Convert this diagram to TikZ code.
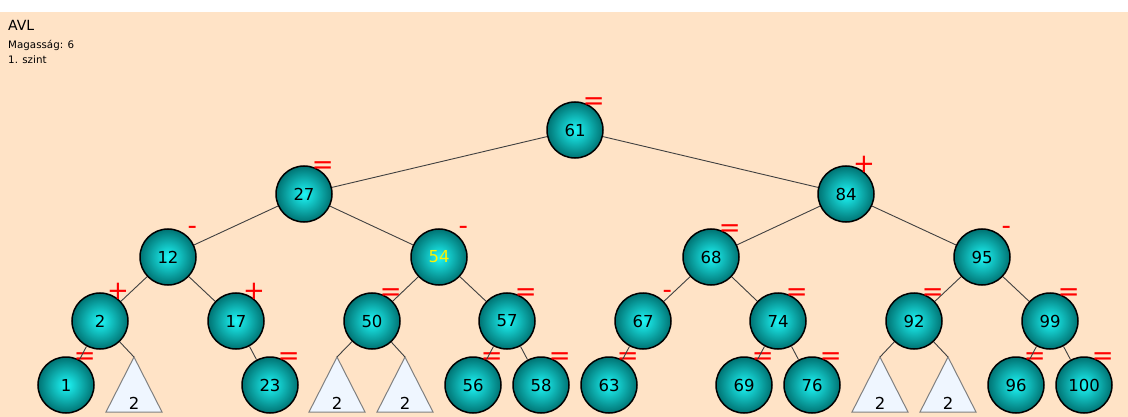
\documentclass[tikz,border=0pt]{standalone}
\usepackage{fontspec}
\setmainfont{DejaVu Sans}
\usepackage{tikz}
\definecolor{peach}{HTML}{FFE3C6}
\definecolor{tealdark}{HTML}{007373}
\definecolor{tealhi}{HTML}{1EF7F7}
\definecolor{leafbg}{HTML}{EFF6FF}

\begin{document}
\begin{tikzpicture}[x=1pt,y=-1pt,
	avl/.style={circle,draw=black,line width=1.5pt,minimum size=56pt,inner sep=0pt,
		shading=radial,inner color=tealhi,outer color=tealdark,
		font=\fontsize{16.5}{18}\selectfont},
	bal/.style={text=red,font=\fontsize{26}{26}\selectfont,inner sep=0pt,anchor=center},
	eq/.style={label={[bal,label distance=4pt]55:{=}}},
	plus/.style={label={[bal,label distance=6pt]59:{+}}},
	minus/.style={label={[bal,label distance=9pt,yshift=-2pt]50:{-}}},
	link/.style={draw=black!75,line width=0.9pt},
	sub/.style={draw=black!50,line width=1pt,fill=leafbg},
	subtxt/.style={inner sep=0pt,font=\fontsize{16.5}{18}\selectfont}]

	\useasboundingbox (0,0) rectangle (1128,417);
	\fill[white] (0,0) rectangle (1128,417);
	\fill[peach] (0,12) rectangle (1128,417);

	\node[anchor=base west,inner sep=0pt,font=\fontsize{14}{16}\selectfont] (title) at (8,31) {AVL};
	\node[anchor=base west,inner sep=0pt,font=\fontsize{10.3}{12}\selectfont] (height) at (8,48.7) {Magasság: 6};
	\node[anchor=base west,inner sep=0pt,font=\fontsize{10.3}{12}\selectfont] (level) at (8,64) {1. szint};

	\node[avl,eq] (n61) at (575,130) {61};

	\node[avl,eq] (n27) at (304,194) {27};
	\node[avl,plus] (n84) at (846,194) {84};

	\node[avl,minus] (n12) at (168,257) {12};
	\node[avl,minus,text=yellow] (n54) at (439,257) {54};
	\node[avl,eq] (n68) at (711,257) {68};
	\node[avl,minus] (n95) at (982,257) {95};

	\node[avl,plus] (n2) at (100,321) {2};
	\node[avl,plus] (n17) at (236,321) {17};
	\node[avl,eq] (n50) at (372,321) {50};
	\node[avl,eq] (n57) at (507,321) {57};
	\node[avl,minus] (n67) at (643,321) {67};
	\node[avl,eq] (n74) at (778,321) {74};
	\node[avl,eq] (n92) at (914,321) {92};
	\node[avl,eq] (n99) at (1050,321) {99};

	\node[avl,eq] (n1) at (66,385) {1};
	\node[avl,eq] (n23) at (270,385) {23};
	\node[avl,eq] (n56) at (473,385) {56};
	\node[avl,eq] (n58) at (541,385) {58};
	\node[avl,eq] (n63) at (609,385) {63};
	\node[avl,eq] (n69) at (744,385) {69};
	\node[avl,eq] (n76) at (812,385) {76};
	\node[avl,eq] (n96) at (1016,385) {96};
	\node[avl,eq] (n100) at (1084,385) {100};

	% subtrees hanging below the last level
	\coordinate (t2r) at (134,357);
	\coordinate (t50l) at (337,357);
	\coordinate (t50r) at (405,357);
	\coordinate (t92l) at (880,357);
	\coordinate (t92r) at (948,357);
	\draw[sub] (t2r) -- ++(-28,55) -- ++(56,0) -- cycle;
	\draw[sub] (t50l) -- ++(-28,55) -- ++(56,0) -- cycle;
	\draw[sub] (t50r) -- ++(-28,55) -- ++(56,0) -- cycle;
	\draw[sub] (t92l) -- ++(-28,55) -- ++(56,0) -- cycle;
	\draw[sub] (t92r) -- ++(-28,55) -- ++(56,0) -- cycle;
	\node[subtxt] (h2r) at (134,403) {2};
	\node[subtxt] (h50l) at (337,403) {2};
	\node[subtxt] (h50r) at (405,403) {2};
	\node[subtxt] (h92l) at (880,403) {2};
	\node[subtxt] (h92r) at (948,403) {2};

	\draw[link] (n61) -- (n27) (n61) -- (n84);
	\draw[link] (n27) -- (n12) (n27) -- (n54) (n84) -- (n68) (n84) -- (n95);
	\draw[link] (n12) -- (n2) (n12) -- (n17) (n54) -- (n50) (n54) -- (n57)
		(n68) -- (n67) (n68) -- (n74) (n95) -- (n92) (n95) -- (n99);
	\draw[link] (n2) -- (n1) (n2) -- (t2r) (n17) -- (n23)
		(n50) -- (t50l) (n50) -- (t50r) (n57) -- (n56) (n57) -- (n58)
		(n67) -- (n63) (n74) -- (n69) (n74) -- (n76)
		(n92) -- (t92l) (n92) -- (t92r) (n99) -- (n96) (n99) -- (n100);
\end{tikzpicture}
\end{document}
